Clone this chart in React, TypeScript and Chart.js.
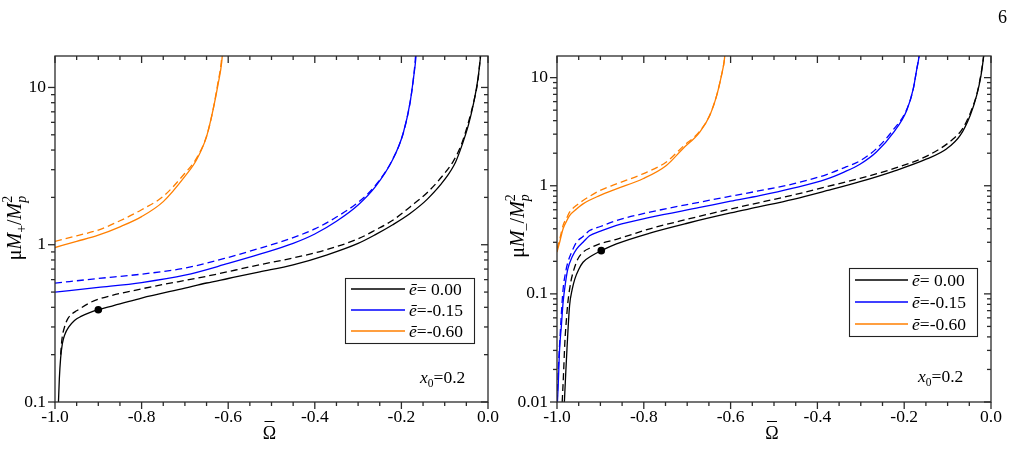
import React, { useEffect, useRef } from 'react';
import { Chart, registerables } from 'chart.js';

Chart.register(...registerables);

const FONT = '"Liberation Serif", "Times New Roman", serif';

// ---------- axis tick labels ----------
const omegaTicks = [-1.0, -0.8, -0.6, -0.4, -0.2, 0.0];
const yTicksPlus = [0.1, 1, 10];
const yTicksMinus = [0.01, 0.1, 1, 10];

// ---------- legend ----------
const legendLabels = ['= 0.00', '=-0.15', '=-0.60'];
const seriesColors = ['#000000', '#0000ff', '#ff7f00'];

// ---------- left panel: mu M+ / Mp^2 ----------
const plusBlackSolidX = [-0.992, -0.990, -0.987, -0.983, -0.977, -0.968, -0.955, -0.94, -0.92, -0.90, -0.85, -0.80, -0.70, -0.65, -0.60, -0.527, -0.45, -0.373, -0.30, -0.26, -0.22, -0.18, -0.14, -0.10, -0.075, -0.06, -0.045, -0.033, -0.024, -0.018, -0.014];
const plusBlackSolidY = [0.10, 0.14, 0.19, 0.235, 0.27, 0.30, 0.33, 0.35, 0.37, 0.386, 0.42, 0.458, 0.53, 0.571, 0.61, 0.672, 0.745, 0.86, 1.02, 1.16, 1.34, 1.58, 1.95, 2.6, 3.35, 4.3, 5.8, 8.0, 11.0, 15.0, 20];
const plusBlackDashX = [-0.987, -0.984, -0.978, -0.97, -0.96, -0.95, -0.92, -0.90, -0.80, -0.65, -0.527, -0.45, -0.373, -0.30, -0.26, -0.22, -0.18, -0.14, -0.10, -0.08, -0.062, -0.046, -0.033, -0.023, -0.018, -0.014];
const plusBlackDashY = [0.20, 0.25, 0.30, 0.34, 0.365, 0.38, 0.427, 0.45, 0.524, 0.63, 0.746, 0.824, 0.93, 1.09, 1.24, 1.43, 1.74, 2.15, 2.85, 3.4, 4.3, 5.9, 8.1, 11.2, 15.3, 20];
const plusBlueSolidX = [-1.0, -0.9, -0.8, -0.7, -0.6, -0.527, -0.45, -0.40, -0.35, -0.30, -0.26, -0.22, -0.196, -0.18, -0.172, -0.167, -0.164];
const plusBlueSolidY = [0.50, 0.535, 0.575, 0.64, 0.76, 0.87, 1.02, 1.17, 1.41, 1.79, 2.34, 3.48, 5.1, 8.0, 11.5, 15.0, 20];
const plusBlueDashX = [-1.0, -0.9, -0.8, -0.7, -0.6, -0.527, -0.45, -0.40, -0.35, -0.30, -0.26, -0.22, -0.196, -0.18, -0.172, -0.168, -0.165];
const plusBlueDashY = [0.57, 0.61, 0.65, 0.71, 0.83, 0.95, 1.11, 1.26, 1.50, 1.86, 2.38, 3.5, 5.1, 8.0, 11.5, 15.0, 20];
const plusOrangeSolidX = [-1.0, -0.95, -0.9, -0.85, -0.8, -0.75, -0.7, -0.673, -0.65, -0.635, -0.623, -0.615, -0.611];
const plusOrangeSolidY = [0.96, 1.05, 1.15, 1.30, 1.51, 1.88, 2.72, 3.47, 4.87, 7.2, 10.6, 14.5, 20];
const plusOrangeDashX = [-1.0, -0.95, -0.9, -0.85, -0.8, -0.75, -0.7, -0.673, -0.65, -0.635, -0.624, -0.616, -0.612];
const plusOrangeDashY = [1.05, 1.14, 1.24, 1.42, 1.67, 2.03, 2.85, 3.55, 4.9, 7.2, 10.6, 14.5, 20];
const plusDotX = [-0.90];
const plusDotY = [0.386];

// ---------- right panel: mu M- / Mp^2 ----------
const minusBlackSolidX = [-0.983, -0.980, -0.977, -0.971, -0.965, -0.959, -0.950, -0.94, -0.92, -0.898, -0.863, -0.786, -0.70, -0.60, -0.533, -0.456, -0.379, -0.302, -0.225, -0.148, -0.102, -0.071, -0.048, -0.033, -0.023, -0.018, -0.014];
const minusBlackSolidY = [0.01, 0.018, 0.031, 0.078, 0.11, 0.137, 0.168, 0.196, 0.225, 0.251, 0.29, 0.365, 0.45, 0.56, 0.64, 0.75, 0.90, 1.09, 1.36, 1.77, 2.2, 2.92, 4.47, 6.85, 10.5, 14.5, 20];
const minusBlackDashX = [-0.988, -0.985, -0.982, -0.978, -0.975, -0.968, -0.963, -0.952, -0.94, -0.92, -0.902, -0.863, -0.786, -0.70, -0.60, -0.533, -0.456, -0.379, -0.302, -0.225, -0.148, -0.09, -0.065, -0.046, -0.032, -0.023, -0.018, -0.014];
const minusBlackDashY = [0.01, 0.018, 0.035, 0.06, 0.083, 0.13, 0.158, 0.21, 0.243, 0.27, 0.29, 0.32, 0.40, 0.49, 0.61, 0.70, 0.82, 0.98, 1.17, 1.44, 1.88, 2.65, 3.4, 4.9, 7.2, 10.8, 14.8, 20];
const minusBlueSolidX = [-0.999, -0.997, -0.994, -0.990, -0.986, -0.980, -0.975, -0.965, -0.955, -0.94, -0.925, -0.90, -0.863, -0.786, -0.671, -0.60, -0.533, -0.456, -0.379, -0.34, -0.302, -0.264, -0.225, -0.194, -0.179, -0.171, -0.166, -0.163];
const minusBlueSolidY = [0.01, 0.015, 0.031, 0.05, 0.083, 0.13, 0.17, 0.22, 0.26, 0.30, 0.345, 0.38, 0.43, 0.51, 0.63, 0.72, 0.81, 0.95, 1.15, 1.33, 1.58, 2.05, 3.1, 5.0, 7.9, 12, 15.5, 20];
const minusBlueDashX = [-0.9995, -0.997, -0.993, -0.990, -0.986, -0.980, -0.975, -0.965, -0.955, -0.94, -0.925, -0.90, -0.863, -0.786, -0.671, -0.60, -0.533, -0.456, -0.379, -0.333, -0.302, -0.264, -0.225, -0.194, -0.179, -0.171, -0.166, -0.163];
const minusBlueDashY = [0.01, 0.02, 0.04, 0.065, 0.11, 0.16, 0.196, 0.25, 0.30, 0.34, 0.385, 0.42, 0.476, 0.57, 0.705, 0.80, 0.90, 1.04, 1.27, 1.5, 1.7, 2.2, 3.3, 5.1, 7.9, 12, 15.5, 20];
const minusOrangeSolidX = [-1.0, -0.993, -0.986, -0.978, -0.971, -0.955, -0.94, -0.902, -0.863, -0.802, -0.748, -0.71, -0.671, -0.648, -0.632, -0.621, -0.615, -0.611];
const minusOrangeSolidY = [0.243, 0.31, 0.40, 0.47, 0.53, 0.61, 0.68, 0.81, 0.935, 1.16, 1.54, 2.2, 3.14, 4.47, 6.85, 10.5, 14, 20];
const minusOrangeDashX = [-1.0, -0.993, -0.986, -0.978, -0.971, -0.955, -0.94, -0.902, -0.863, -0.802, -0.748, -0.71, -0.671, -0.648, -0.632, -0.621, -0.615, -0.611];
const minusOrangeDashY = [0.26, 0.33, 0.43, 0.50, 0.57, 0.66, 0.73, 0.90, 1.04, 1.29, 1.66, 2.3, 3.2, 4.5, 6.85, 10.5, 14, 20];
const minusDotX = [-0.898];
const minusDotY = [0.251];

// ---------- helpers ----------
type Part = { t: string; it?: boolean; size?: number; dy?: number; stack?: boolean };

function fontOf(p: Part, base: number) {
  return `${p.it ? 'italic ' : ''}${p.size ?? base}px ${FONT}`;
}

function measureRich(ctx: CanvasRenderingContext2D, parts: Part[], base: number) {
  let cursor = 0;
  let prevStart = 0;
  const xs: number[] = [];
  for (const p of parts) {
    ctx.font = fontOf(p, base);
    const w = ctx.measureText(p.t).width;
    const start = p.stack ? prevStart : cursor;
    xs.push(start);
    cursor = Math.max(cursor, start + w);
    prevStart = start;
  }
  return { xs, width: cursor };
}

function drawRich(ctx: CanvasRenderingContext2D, parts: Part[], x: number, y: number, base: number, align: 'left' | 'center') {
  const { xs, width } = measureRich(ctx, parts, base);
  const x0 = align === 'center' ? x - width / 2 : x;
  ctx.textAlign = 'left';
  ctx.textBaseline = 'alphabetic';
  parts.forEach((p, i) => {
    ctx.font = fontOf(p, base);
    ctx.fillText(p.t, x0 + xs[i], y + (p.dy ?? 0));
  });
}

function series(xs: number[], ys: number[], color: string, dashed: boolean) {
  return {
    data: xs.map((x, i) => ({ x, y: ys[i] })),
    borderColor: color,
    backgroundColor: color,
    borderWidth: 1.3,
    borderDash: dashed ? [7, 4] : [],
    pointRadius: 0,
    showLine: true,
    fill: false,
    cubicInterpolationMode: 'monotone',
  };
}

function dot(xs: number[], ys: number[]) {
  return {
    data: xs.map((x, i) => ({ x, y: ys[i] })),
    borderColor: '#000',
    backgroundColor: '#000',
    pointRadius: 3.8,
    pointBorderWidth: 0,
    showLine: false,
  };
}

type PanelCfg = {
  width: number;
  areaLeft: number;
  areaRight: number;
  areaTop: number;
  areaBottom: number;
  yMin: number;
  yMax: number;
  yTicks: number[];
  datasets: any[];
  titleParts: Part[];
  titleX: number;
  titleY: number;
  legendBox: [number, number, number, number];
  legendRowsY: number[];
  legendLineX: [number, number];
  legendTextX: number;
  noteX: number;
  noteY: number;
  omegaY: number;
};

function decorPlugin(cfg: PanelCfg) {
  return {
    id: 'decor',
    afterDraw(chart: any) {
      const { ctx, chartArea: a, scales } = chart;
      const xs = scales.x;
      const ys = scales.y;
      ctx.save();
      const seg = (x1: number, y1: number, x2: number, y2: number) => {
        ctx.beginPath();
        ctx.moveTo(x1, y1);
        ctx.lineTo(x2, y2);
        ctx.stroke();
      };
      ctx.strokeStyle = '#2a2a2a';
      ctx.lineWidth = 1.3;
      ctx.setLineDash([]);
      ctx.strokeRect(a.left, a.top, a.right - a.left, a.bottom - a.top);
      // x ticks (bottom outward, top inward)
      for (let i = 0; i <= 20; i++) {
        const v = -1 + i * 0.05;
        const px = xs.getPixelForValue(v);
        const len = i % 4 === 0 ? 7 : 4;
        seg(px, a.bottom, px, a.bottom + len);
        seg(px, a.top, px, a.top + len);
      }
      // y ticks (left outward, right inward)
      const d0 = Math.round(Math.log10(cfg.yMin));
      const d1 = Math.ceil(Math.log10(cfg.yMax));
      for (let d = d0; d <= d1; d++) {
        for (let m = 1; m <= 9; m++) {
          const v = m * Math.pow(10, d);
          if (v < cfg.yMin * 0.999 || v > cfg.yMax) continue;
          const py = ys.getPixelForValue(v);
          const len = m === 1 ? 7 : 4;
          seg(a.left, py, a.left - len, py);
          seg(a.right, py, a.right - len, py);
        }
      }
      ctx.fillStyle = '#000';
      // x-axis title: Omega with bar
      const cx = (a.left + a.right) / 2 - 2;
      ctx.font = `18px ${FONT}`;
      ctx.textAlign = 'center';
      ctx.textBaseline = 'alphabetic';
      ctx.fillText('\u03A9', cx, cfg.omegaY);
      ctx.strokeStyle = '#000';
      ctx.lineWidth = 1;
      seg(cx - 5, cfg.omegaY - 17.5, cx + 5, cfg.omegaY - 17.5);
      // y-axis title (rotated)
      ctx.save();
      ctx.translate(cfg.titleX, cfg.titleY);
      ctx.rotate(-Math.PI / 2);
      drawRich(ctx, cfg.titleParts, 0, 6, 20, 'center');
      ctx.restore();
      // legend
      const [bx, by, bw, bh] = cfg.legendBox;
      ctx.fillStyle = '#fff';
      ctx.fillRect(bx, by, bw, bh);
      ctx.strokeStyle = '#222';
      ctx.lineWidth = 1.1;
      ctx.strokeRect(bx + 0.5, by + 0.5, bw, bh);
      legendLabels.forEach((lab, i) => {
        const ry = cfg.legendRowsY[i];
        ctx.strokeStyle = seriesColors[i];
        ctx.lineWidth = 1.4;
        seg(cfg.legendLineX[0], ry, cfg.legendLineX[1], ry);
        ctx.fillStyle = '#000';
        drawRich(ctx, [{ t: '\u0113', it: true }, { t: lab }], cfg.legendTextX, ry + 6, 17.5, 'left');
      });
      // x0 note
      drawRich(ctx, [{ t: 'x', it: true }, { t: '0', size: 11.5, dy: 4 }, { t: '=0.2' }], cfg.noteX, cfg.noteY, 17.5, 'left');
      ctx.restore();
    },
  };
}

function buildConfig(cfg: PanelCfg) {
  const H = 464;
  return {
    type: 'scatter',
    data: { datasets: cfg.datasets },
    options: {
      animation: false,
      responsive: false,
      maintainAspectRatio: false,
      events: [],
      layout: { padding: { left: 0, right: cfg.width - cfg.areaRight, top: cfg.areaTop, bottom: 0 } },
      plugins: { legend: { display: false }, tooltip: { enabled: false } },
      scales: {
        x: {
          type: 'linear',
          min: -1,
          max: 0,
          afterBuildTicks: (s: any) => {
            s.ticks = omegaTicks.map((v) => ({ value: v }));
          },
          afterFit: (s: any) => {
            s.height = H - cfg.areaBottom;
          },
          grid: { display: false, drawTicks: false },
          border: { display: false },
          ticks: {
            color: '#000',
            font: { family: FONT, size: 17.5 },
            padding: 5,
            maxRotation: 0,
            autoSkip: false,
            callback: (v: number) => (Math.abs(v) < 1e-9 ? '0.0' : Number(v).toFixed(1)),
          },
        },
        y: {
          type: 'logarithmic',
          min: cfg.yMin,
          max: cfg.yMax,
          afterBuildTicks: (s: any) => {
            s.ticks = cfg.yTicks.map((v) => ({ value: v }));
          },
          afterFit: (s: any) => {
            s.width = cfg.areaLeft;
          },
          grid: { display: false, drawTicks: false },
          border: { display: false },
          ticks: {
            color: '#000',
            font: { family: FONT, size: 17.5 },
            padding: 9,
            autoSkip: false,
            callback: (v: number) => String(v),
          },
        },
      },
    },
    plugins: [decorPlugin(cfg)],
  };
}

const Y_MAX = 15.85;

const leftCfg: PanelCfg = {
  width: 505,
  areaLeft: 55,
  areaRight: 488,
  areaTop: 56,
  areaBottom: 402,
  yMin: 0.1,
  yMax: Y_MAX,
  yTicks: yTicksPlus,
  datasets: [
    series(plusOrangeSolidX, plusOrangeSolidY, seriesColors[2], false),
    series(plusOrangeDashX, plusOrangeDashY, seriesColors[2], true),
    series(plusBlueSolidX, plusBlueSolidY, seriesColors[1], false),
    series(plusBlueDashX, plusBlueDashY, seriesColors[1], true),
    series(plusBlackSolidX, plusBlackSolidY, seriesColors[0], false),
    series(plusBlackDashX, plusBlackDashY, seriesColors[0], true),
    dot(plusDotX, plusDotY),
  ],
  titleParts: [
    { t: '\u03BC' },
    { t: 'M', it: true },
    { t: '+', size: 14, dy: 5 },
    { t: '/' },
    { t: 'M', it: true },
    { t: 'p', it: true, size: 14, dy: 5 },
    { t: '2', size: 14, dy: -9, stack: true },
  ],
  titleX: 15,
  titleY: 228,
  legendBox: [345, 278, 129, 65],
  legendRowsY: [289, 310, 331],
  legendLineX: [351, 405],
  legendTextX: 409,
  noteX: 420,
  noteY: 383,
  omegaY: 439,
};

const rightCfg: PanelCfg = {
  width: 512,
  areaLeft: 52,
  areaRight: 486,
  areaTop: 56,
  areaBottom: 402,
  yMin: 0.01,
  yMax: Y_MAX,
  yTicks: yTicksMinus,
  datasets: [
    series(minusOrangeSolidX, minusOrangeSolidY, seriesColors[2], false),
    series(minusOrangeDashX, minusOrangeDashY, seriesColors[2], true),
    series(minusBlueSolidX, minusBlueSolidY, seriesColors[1], false),
    series(minusBlueDashX, minusBlueDashY, seriesColors[1], true),
    series(minusBlackSolidX, minusBlackSolidY, seriesColors[0], false),
    series(minusBlackDashX, minusBlackDashY, seriesColors[0], true),
    dot(minusDotX, minusDotY),
  ],
  titleParts: [
    { t: '\u03BC' },
    { t: 'M', it: true },
    { t: '\u2013', size: 14, dy: 6 },
    { t: '/' },
    { t: 'M', it: true },
    { t: 'p', it: true, size: 14, dy: 5 },
    { t: '2', size: 14, dy: -9, stack: true },
  ],
  titleX: 13,
  titleY: 226,
  legendBox: [344, 268, 128, 68],
  legendRowsY: [280, 302, 324],
  legendLineX: [350, 403],
  legendTextX: 407,
  noteX: 413,
  noteY: 382,
  omegaY: 439,
};

function Panel({ left, cfg }: { left: number; cfg: PanelCfg }) {
  const ref = useRef<HTMLCanvasElement>(null);
  useEffect(() => {
    let chart: Chart | null = null;
    let cancelled = false;
    const fonts: any = (document as any).fonts;
    const ready: Promise<any> = fonts
      ? Promise.all([
          fonts.load('17px "Liberation Serif"'),
          fonts.load('italic 17px "Liberation Serif"'),
        ]).catch(() => null)
      : Promise.resolve(null);
    ready.then(() => {
      if (cancelled || !ref.current) return;
      chart = new Chart(ref.current, buildConfig(cfg) as any);
    });
    return () => {
      cancelled = true;
      if (chart) chart.destroy();
    };
  }, [cfg]);
  return (
    <canvas
      ref={ref}
      width={cfg.width}
      height={464}
      style={{ position: 'absolute', left, top: 0, width: cfg.width, height: 464 }}
    />
  );
}

export default function App() {
  return (
    <div style={{ position: 'absolute', left: 0, top: 0, width: 1017, height: 464, background: '#fff', overflow: 'hidden' }}>
      <Panel left={0} cfg={leftCfg} />
      <Panel left={505} cfg={rightCfg} />
      <div
        style={{ position: 'absolute', left: 998, top: 7, fontFamily: FONT, fontSize: 18, color: '#000', lineHeight: '20px' }}
      >
        6
      </div>
    </div>
  );
}
